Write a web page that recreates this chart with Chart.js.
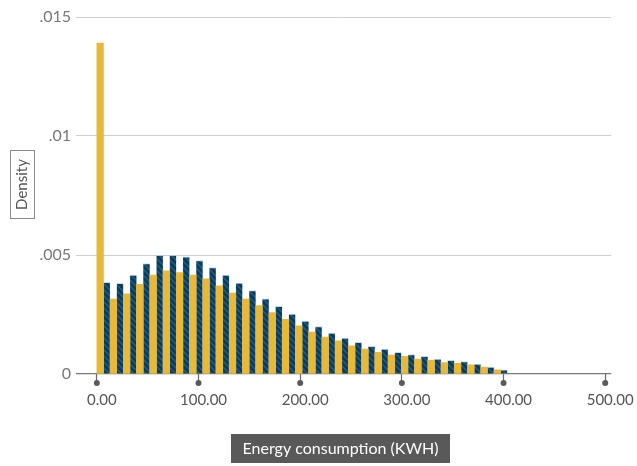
<!DOCTYPE html>
<html>
<head>
<meta charset="utf-8">
<script src="https://cdn.jsdelivr.net/npm/chart.js@4.4.1/dist/chart.umd.min.js"></script>
<style>
  html, body { margin: 0; padding: 0; background: #fff; }
  #wrap { width: 637px; height: 466px; }
</style>
</head>
<body>
<div id="wrap"><canvas id="histChart" width="637" height="466"></canvas></div>
<script>
// bin centres (kWh), bin width about 13 kWh
const binCenters = [6.51, 19.53, 32.55, 45.57, 58.59, 71.61, 84.63, 97.65, 110.67, 123.69,
  136.71, 149.73, 162.75, 175.77, 188.79, 201.81, 214.83, 227.85, 240.87, 253.89,
  266.91, 279.93, 292.95, 305.97, 318.99, 332.01, 345.03, 358.05, 371.07, 384.09, 397.11];

// density, yellow series (left bar of each bin)
const yellowDensity = [0.0139, 0.00315, 0.00337, 0.00377, 0.00416, 0.00433, 0.00426, 0.00416, 0.00400, 0.00370,
  0.00340, 0.00315, 0.00287, 0.00258, 0.00230, 0.00202, 0.00176, 0.00155, 0.00139, 0.00118,
  0.00105, 0.00091, 0.00080, 0.00074, 0.00063, 0.00057, 0.00048, 0.00045, 0.00039, 0.00029, 0.00018];

// density, navy series (right bar of each bin)
const navyDensity = [0.00385, 0.00381, 0.00416, 0.00464, 0.00499, 0.00499, 0.00492, 0.00477, 0.00447, 0.00416,
  0.00382, 0.00350, 0.00316, 0.00284, 0.00252, 0.00222, 0.00199, 0.00172, 0.00151, 0.00133,
  0.00116, 0.00105, 0.00091, 0.00082, 0.00074, 0.00063, 0.00057, 0.00052, 0.00042, 0.00029, 0.00018];

const yTicks = [0, 0.005, 0.01, 0.015];
const yTickLabels = ['0', '.005', '.01', '.015'];
const xTicks = [0, 100, 200, 300, 400, 500];

const FONT = 'Lato, "Open Sans", sans-serif';

// striped fill for the navy bars
function makeStripes() {
  const c = document.createElement('canvas');
  c.width = 6; c.height = 6;
  const g = c.getContext('2d');
  g.fillStyle = '#0b3a5a';
  g.fillRect(0, 0, 6, 6);
  g.strokeStyle = '#236083';
  g.lineWidth = 1.4;
  g.beginPath();
  g.moveTo(-1, -1); g.lineTo(7, 7);
  g.moveTo(-1, 5); g.lineTo(1, 7);
  g.moveTo(5, -1); g.lineTo(7, 1);
  g.stroke();
  return g.createPattern(c, 'repeat');
}

const extras = {
  id: 'extras',
  afterDraw(chart) {
    const { ctx, scales } = chart;
    const x = scales.x;
    ctx.save();
    // tick dots under the axis
    ctx.fillStyle = '#5a5a5a';
    xTicks.forEach(v => {
      const px = x.getPixelForValue(v);
      ctx.beginPath();
      ctx.arc(px, 383, 3, 0, Math.PI * 2);
      ctx.fill();
    });
    // y title box
    ctx.fillStyle = '#fff';
    ctx.strokeStyle = '#8a8a8a';
    ctx.lineWidth = 1;
    ctx.fillRect(10.5, 150.5, 24, 68);
    ctx.strokeRect(10.5, 150.5, 24, 68);
    ctx.translate(22.5, 184.5);
    ctx.rotate(-Math.PI / 2);
    ctx.fillStyle = '#555';
    ctx.font = '15px ' + FONT;
    ctx.textAlign = 'center';
    ctx.textBaseline = 'middle';
    ctx.fillText('Density', 0, 0);
    ctx.restore();
    // x title box
    ctx.save();
    ctx.fillStyle = '#595959';
    ctx.fillRect(231, 434, 219, 29);
    ctx.fillStyle = '#fff';
    ctx.font = '16px ' + FONT;
    ctx.textAlign = 'center';
    ctx.textBaseline = 'middle';
    ctx.fillText('Energy consumption (KWH)', 340.5, 449);
    ctx.restore();
  }
};

new Chart(document.getElementById('histChart'), {
  type: 'bar',
  data: {
    labels: binCenters,
    datasets: [{
      data: binCenters.map((c, i) => ({ x: c, y: yellowDensity[i] })),
      backgroundColor: '#e8b938',
      borderWidth: 0,
      barPercentage: 1,
      categoryPercentage: 1
    }, {
      data: binCenters.map((c, i) => ({ x: c, y: navyDensity[i] })),
      backgroundColor: makeStripes(),
      borderColor: 'rgba(160, 190, 210, 0.6)',
      borderWidth: { top: 1, left: 0.5, right: 0.5, bottom: 0 },
      barPercentage: 1,
      categoryPercentage: 1
    }]
  },
  options: {
    responsive: false,
    animation: false,
    layout: { padding: { top: 17, right: 23, left: 0, bottom: 0 } },
    plugins: {
      legend: { display: false },
      tooltip: { enabled: false }
    },
    scales: {
      x: {
        type: 'linear',
        min: -20.5,
        max: 505.9,
        offset: false,
        afterFit: (s) => { s.height = 92; },
        afterBuildTicks: (s) => { s.ticks = xTicks.map(v => ({ value: v })); },
        border: { display: false },
        grid: {
          offset: false,
          drawOnChartArea: false,
          drawTicks: true,
          tickLength: 9,
          tickColor: '#6a6a6a',
          tickWidth: 1.2
        },
        ticks: {
          color: '#555',
          font: { family: FONT, size: 15 },
          padding: 8,
          labelOffset: 5,
          maxRotation: 0,
          callback: (v) => Number(v).toFixed(2)
        }
      },
      y: {
        min: 0,
        max: 0.015,
        afterFit: (s) => { s.width = 76; },
        afterBuildTicks: (s) => { s.ticks = yTicks.map(v => ({ value: v })); },
        border: { display: false },
        grid: {
          drawTicks: false,
          color: (c) => c.tick && c.tick.value === 0 ? '#7a7a7a' : '#cfcfcf',
          lineWidth: (c) => c.tick && c.tick.value === 0 ? 1.3 : 1
        },
        ticks: {
          color: '#777',
          font: { family: FONT, size: 16 },
          padding: 5,
          callback: (v, i) => yTickLabels[i]
        }
      }
    }
  },
  plugins: [extras]
});
</script>
</body>
</html>
